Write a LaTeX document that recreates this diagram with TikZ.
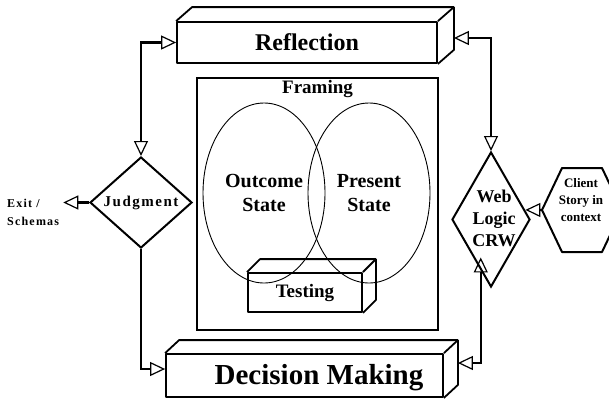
\documentclass[tikz,border=0pt]{standalone}
\usepackage{fontspec}
\setmainfont{Liberation Serif}
\usetikzlibrary{arrows.meta,shapes.geometric}

% top and side faces of a box, behind its front node
\newcommand\slabback[3]{%
    \draw [slabline] (#1.north west) -- ++(#2,-#3)
        -- ([shift={(#2,-#3)}]#1.north east)
        -- ([shift={(#2,-#3)}]#1.south east)
        -- (#1.south east);
    \draw [slabline] (#1.north east) -- ++(#2,-#3);
}

\begin{document}
\begin{tikzpicture}
        [   x = 1pt, y = -1pt
        ,   >= {Triangle[open, length = 15pt, width = 14pt, line width = 1.2pt]}
        ,   textsize/.style 2 args =
            {   font = \bfseries\fontsize{#1}{#2}\selectfont
            }
        ,   spaced/.style 2 args =
            {   font = \bfseries\fontsize{#1}{#2}\selectfont\addfontfeature{LetterSpace = 10}
            }
        ,   slabline/.style = {line width = 1.8pt, line join = round}
        ,   slabface/.style =
            {   draw, slabline, inner sep = 0pt
            }
        ,   choice/.style =
            {   draw, diamond, line width = 2pt, inner sep = 0pt
            }
        ,   state/.style =
            {   draw, ellipse, line width = 0.9pt, align = center
            ,   minimum width = 122pt, minimum height = 180pt
            ,   textsize = {20}{24}
            }
        ,   link/.style = {line width = 2.2pt}
        ]
        \useasboundingbox (0,0) rectangle (609,399);

        % framing
        \node [draw, line width = 1.5pt, minimum width = 241pt, minimum height = 252pt]
            (framing) at (317.5,204) {};
        \node [anchor = north, textsize = {19}{23}] (framingtext) at (framing.north) {Framing};
        \node [state] (outcome) at (264,193) {Outcome\\State};
        \node [state] (present) at (369,193) {Present\\State};
        \node [slabface, minimum width = 114pt, minimum height = 39pt, textsize = {19}{23}]
            (testing) at (305,292.5) {Testing};
        \slabback{testing}{13}{13}

        % boxes
        \node [slabface, minimum width = 260pt, minimum height = 41pt, textsize = {24}{28}]
            (reflection) at (307,42.5) {Reflection};
        \slabback{reflection}{16}{14}
        \node [slabface, minimum width = 277pt, minimum height = 43pt]
            (decision) at (304.5,375.5) {};
        \slabback{decision}{14}{13}
        \node [textsize = {29}{34}] (decisiontext) at (319,378) {Decision Making};

        % decisions
        \node [choice, minimum width = 102pt, minimum height = 91pt, spaced = {15}{18}]
            (judgment) at (141,202.5) {Judgment};
        \node [choice, minimum width = 78pt, minimum height = 135pt] (weblogic) at (491,219.5) {};
        \node [textsize = {18}{22}, align = center] (weblabel) at (494,218) {Web\\Logic\\CRW};
        \node [anchor = west, inner sep = 0pt, align = left, spaced = {12}{18}]
            (exit) at (7,212) {Exit /\\Schemas};

        % client story
        \node [textsize = {13}{17}, align = center] (client) at (581,200) {Client\\Story in\\context};
        \draw [line width = 2pt, line join = round]
            ([shift={(-39,10)}]client.center) coordinate (clientin)
            -- ++(20,-42) -- ++(40,0) -- ++(20,42) -- ++(-20,42) -- ++(-40,0) -- cycle;

        % ports on the web logic diamond
        \path (weblogic.east) -- (weblogic.north) coordinate [pos = 0.14] (webport);
        \path (weblogic.south) -- (weblogic.west) coordinate [pos = 0.256] (webfoot);

        % links
        \draw [link, <->] (judgment.north) |- (reflection.west);
        \draw [link, ->] (judgment.south) |- ([yshift = 6.5pt]decision.west);
        \draw [link, ->, shorten >= 4pt] (judgment.west) -- (judgment.west -| exit.east);
        \draw [link, <->] (weblogic.north) |- ([shift={(16,-4.5)}]reflection.east);
        \draw [link, <->, shorten <= -13pt] (webfoot) |- ([shift={(14,-12.5)}]decision.east);
        \draw [link, ->] (clientin) -- (webport);
    \end{tikzpicture}
\end{document}
